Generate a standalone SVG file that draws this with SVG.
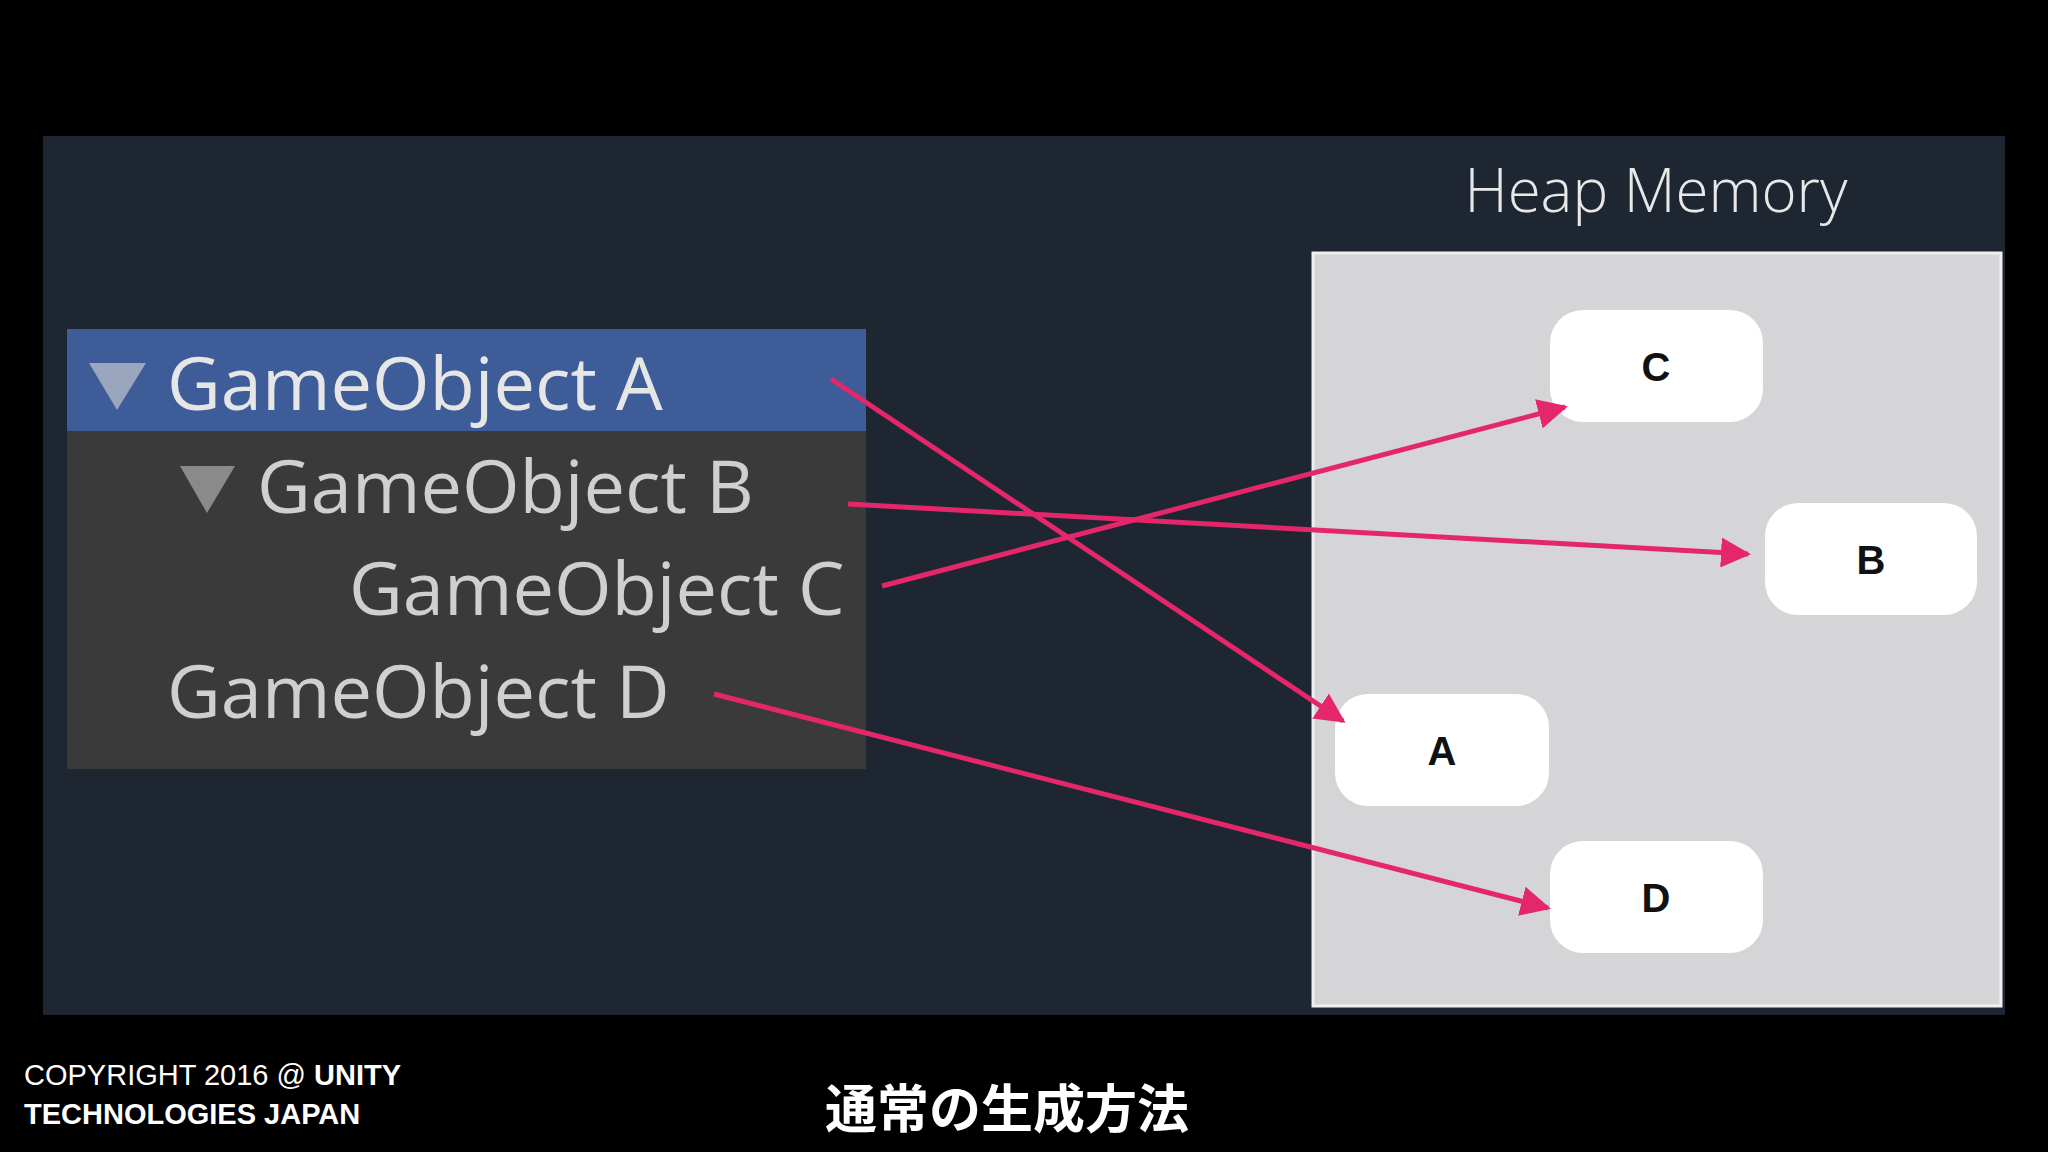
<svg xmlns="http://www.w3.org/2000/svg" width="2048" height="1152" viewBox="0 0 2048 1152">
<defs>
<marker id="ah" viewBox="0 0 10 10" refX="9" refY="5" markerWidth="6" markerHeight="6" markerUnits="strokeWidth" orient="auto"><path d="M0,0 L10,5 L0,10 z" fill="#e3276a"/></marker>
<style>
.go{font-family:"Open Sans","Noto Sans",sans-serif;font-size:74px;fill:#cfcfcf}
.nd{fill:#ffffff}
.nl{font-family:"Liberation Sans",Arial,sans-serif;font-weight:bold;font-size:40px;fill:#111;text-anchor:middle}
.ar{stroke:#e3276a;stroke-width:5;fill:none;marker-end:url(#ah)}
.ft{font-family:"Liberation Sans",Arial,sans-serif;font-size:29px;fill:#fff}
</style>
</defs>
<rect width="2048" height="1152" fill="#000"/>
<rect x="43" y="136" width="1962" height="879" fill="#1e2631"/>
<g id="heap">
<rect x="1313" y="253" width="688" height="753" fill="#d5d5d7" stroke="#f0f0f0" stroke-width="3"/>
<text x="1656" y="212" font-family="Open Sans,Noto Sans,sans-serif" font-size="60" font-weight="300" fill="#e8e8e8" text-anchor="middle">Heap Memory</text>
</g>
<g id="hierarchy">
<rect x="67" y="431" width="799" height="338" fill="#3a3a3a"/>
<rect x="67" y="329" width="799" height="102" fill="#3e5c98"/>
<path d="M89,363 L146,363 L117,410 z" fill="#9aa6bd"/>
<path d="M180,466 L235,466 L207,513 z" fill="#8a8a8a"/>
<text class="go" x="167" y="410" fill="#e6e6e6" style="fill:#e6e6e6">GameObject A</text>
<text class="go" x="257" y="513">GameObject B</text>
<text class="go" x="349" y="615">GameObject C</text>
<text class="go" x="167" y="718">GameObject D</text>
</g>
<g id="nodeC"><rect class="nd" x="1550" y="310" width="213" height="112" rx="33"/><text class="nl" x="1656" y="381">C</text></g>
<g id="nodeB"><rect class="nd" x="1765" y="503" width="212" height="112" rx="33"/><text class="nl" x="1871" y="574">B</text></g>
<g id="nodeA"><rect class="nd" x="1335" y="694" width="214" height="112" rx="33"/><text class="nl" x="1442" y="765">A</text></g>
<g id="nodeD"><rect class="nd" x="1550" y="841" width="213" height="112" rx="33"/><text class="nl" x="1656" y="912">D</text></g>
<g id="connectors">
<line class="ar" x1="831" y1="379" x2="1343" y2="721"/>
<line class="ar" x1="848" y1="504" x2="1748" y2="554"/>
<line class="ar" x1="882" y1="586" x2="1565" y2="407"/>
<line class="ar" x1="714" y1="694" x2="1548" y2="908"/>
</g>
<g id="footer">
<text class="ft" x="24" y="1085">COPYRIGHT 2016 @ <tspan font-weight="bold">UNITY</tspan></text>
<text class="ft" x="24" y="1124" font-weight="bold">TECHNOLOGIES JAPAN</text>
<text x="1007" y="1128" font-family="Noto Sans CJK JP,sans-serif" font-weight="bold" font-size="52" fill="#fff" text-anchor="middle">通常の生成方法</text>
</g>
</svg>
